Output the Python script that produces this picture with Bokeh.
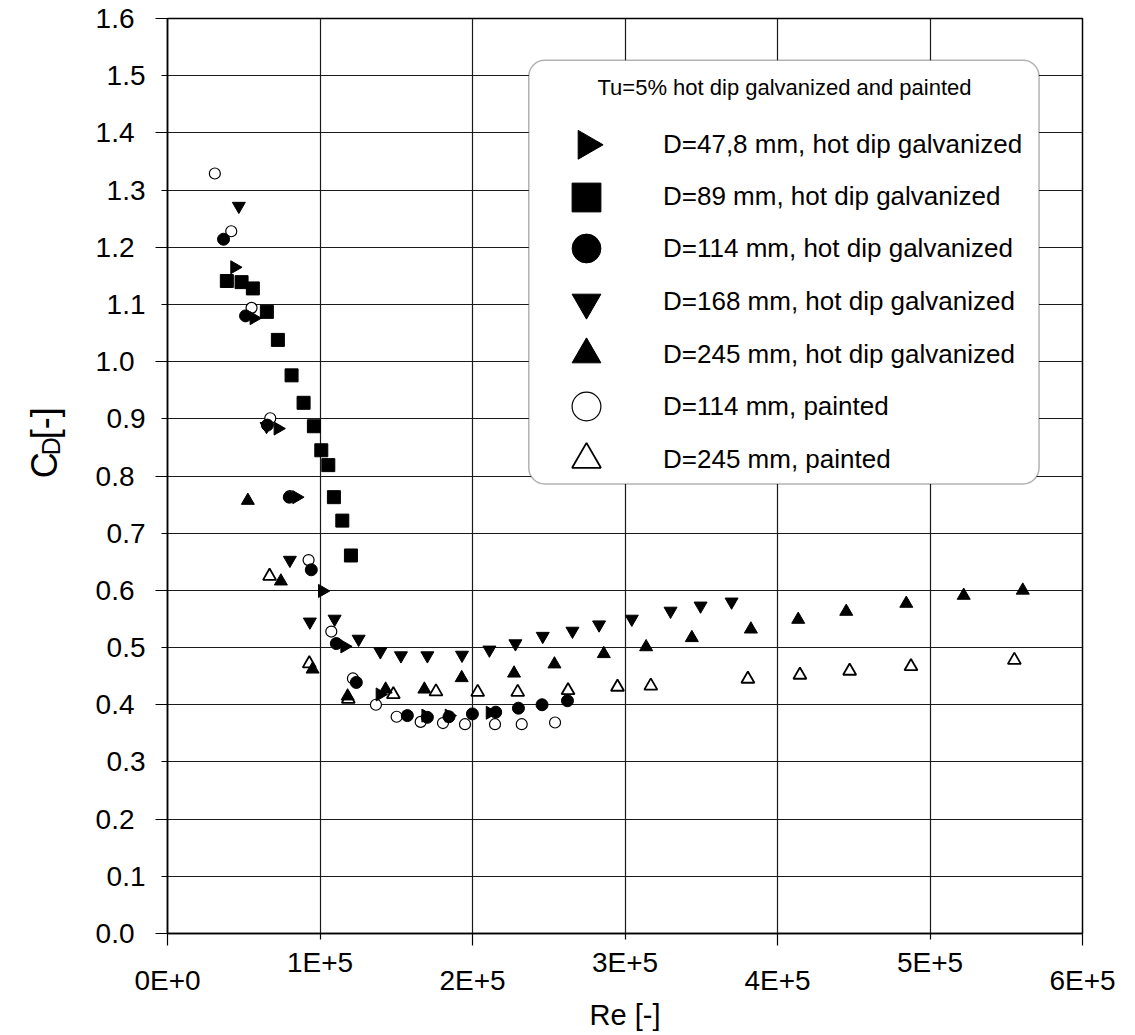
import numpy as np
from bokeh.plotting import figure
from bokeh.layouts import row
from bokeh.models import (Range1d, LinearAxis, FixedTicker, Legend, LegendItem,
                          Label, BoxAnnotation)
from bokeh.core.properties import value
from bokeh.embed import file_html
from bokeh.resources import INLINE

# ---------------- data ----------------
# D=47,8 mm, hot dip galvanized (right-pointing triangles)
re_478 = [43960, 56630, 72380, 84650, 101500, 116140, 139300, 169290, 184580, 211480]
cd_478 = [1.165, 1.076, 0.883, 0.763, 0.599, 0.502, 0.418, 0.381, 0.381, 0.386]

# D=89 mm, hot dip galvanized (squares)
re_89 = [38910, 48560, 55970, 65160, 72380, 81360, 89240, 96000, 100850, 105450,
         109120, 114630, 120280]
cd_89 = [1.141, 1.139, 1.128, 1.087, 1.038, 0.976, 0.928, 0.887, 0.845, 0.819,
         0.763, 0.722, 0.661]

# D=114 mm, hot dip galvanized (filled circles)
re_114g = [36750, 51180, 65500, 79860, 94290, 110700, 123820, 157280, 170400, 184580,
           199930, 215220, 230120, 245600, 262270]
cd_114g = [1.214, 1.080, 0.889, 0.763, 0.636, 0.507, 0.439, 0.381, 0.378, 0.379,
           0.384, 0.387, 0.394, 0.400, 0.407]

# D=168 mm, hot dip galvanized (inverted triangles)
re_168 = [46780, 64960, 80250, 93370, 109580, 125330, 139570, 153080, 170400, 193110,
          211090, 228150, 246060, 265550, 283010, 304460, 329860, 349540, 369880]
cd_168 = [1.272, 0.887, 0.653, 0.545, 0.550, 0.515, 0.493, 0.486, 0.486, 0.487,
          0.496, 0.507, 0.520, 0.529, 0.540, 0.550, 0.564, 0.573, 0.580]

# D=245 mm, hot dip galvanized (filled triangles)
re_245g = [52690, 74340, 95140, 118110, 143040, 168440, 192910, 227230, 253740, 286090,
           313850, 343830, 382550, 413580, 445080, 484450, 522110, 560830]
cd_245g = [0.757, 0.616, 0.462, 0.415, 0.427, 0.427, 0.447, 0.455, 0.471, 0.489,
           0.501, 0.517, 0.532, 0.549, 0.563, 0.577, 0.591, 0.600]

# D=114 mm, painted (open circles)
re_114p = [31040, 41800, 55120, 67390, 80250, 92520, 107410, 121590, 136680, 150260,
           166010, 180640, 195080, 214760, 232280, 254130]
cd_114p = [1.329, 1.228, 1.094, 0.901, 0.765, 0.653, 0.528, 0.446, 0.400, 0.379,
           0.370, 0.368, 0.366, 0.366, 0.366, 0.369]

# D=245 mm, painted (open triangles)
re_245p = [66930, 92980, 118570, 148100, 176050, 203410, 229660, 262660, 295080, 316930,
           380580, 414700, 447310, 487530, 555320]
cd_245p = [0.625, 0.472, 0.410, 0.418, 0.423, 0.422, 0.422, 0.425, 0.431, 0.433,
           0.445, 0.452, 0.459, 0.467, 0.478]

series_labels = [
    "D=47,8 mm, hot dip galvanized",
    "D=89 mm, hot dip galvanized",
    "D=114 mm, hot dip galvanized",
    "D=168 mm, hot dip galvanized",
    "D=245 mm, hot dip galvanized",
    "D=114 mm, painted",
    "D=245 mm, painted",
]
legend_title = "Tu=5% hot dip galvanized and painted"

x_ticks = [0, 100000, 200000, 300000, 400000, 500000, 600000]
x_tick_labels = ["0E+0", "1E+5", "2E+5", "3E+5", "4E+5", "5E+5", "6E+5"]
y_ticks = [0.0, 0.1, 0.2, 0.3, 0.4, 0.5, 0.6, 0.7, 0.8, 0.9, 1.0, 1.1, 1.2, 1.3,
           1.4, 1.5, 1.6]
y_tick_labels = ["0.0", "0.1", "0.2", "0.3", "0.4", "0.5", "0.6", "0.7", "0.8", "0.9",
                 "1.0", "1.1", "1.2", "1.3", "1.4", "1.5", "1.6"]

x_title = "Re [-]"
y_title_parts = ["C", "D", "[-]"]   # C with subscript D, then [-]

# ---------------- layout constants ----------------
FONT = "Liberation Sans"
TOTAL_H = 1035
YF_W = 90                 # strip holding the rotated y-axis title
FRAME_LEFT = 167          # page x of the plot frame
FRAME_W = 915
P_W = 1125 - YF_W
FRAME_TOP = 18
FRAME_H = 915
FRAME_BOTTOM = FRAME_TOP + FRAME_H                    # page y of frame bottom
FRAME_BOTTOM_BORDER = TOTAL_H - FRAME_BOTTOM

# ---------------- y-title strip ----------------
yfig = figure(width=YF_W, height=TOTAL_H, x_range=Range1d(0, YF_W), y_range=Range1d(0, TOTAL_H),
              output_backend="svg", toolbar_location=None, min_border=0,
              x_axis_location=None, y_axis_location=None)
yfig.outline_line_color = None
yfig.grid.visible = False
yfig.background_fill_color = "white"
yfig.border_fill_color = "white"
# (page-x of baseline, page-y where the text starts, font size)
for txt, bx, sy, fs in [(y_title_parts[0], 44, 520.0, "36px"),
                        (y_title_parts[1], 50, 494.0, "25px"),
                        (y_title_parts[2], 44, 476.0, "36px")]:
    yfig.text(x=[bx], y=[TOTAL_H - sy], text=[txt], angle=np.pi / 2,
              text_align="left", text_baseline="alphabetic",
              text_font=value(FONT), text_font_size=fs, text_color="black")

# ---------------- main figure ----------------
p = figure(width=P_W, height=TOTAL_H, x_range=Range1d(0, 600000), y_range=Range1d(0, 1.6),
           output_backend="svg", toolbar_location=None,
           min_border_left=FRAME_LEFT - YF_W, min_border_right=P_W - (FRAME_LEFT - YF_W) - FRAME_W,
           min_border_top=FRAME_TOP, min_border_bottom=FRAME_BOTTOM_BORDER)
p.background_fill_color = "white"
p.border_fill_color = "white"
p.outline_line_color = "black"
p.outline_line_width = 1.5

p.xgrid.ticker = FixedTicker(ticks=x_ticks)
p.ygrid.ticker = FixedTicker(ticks=y_ticks)
p.grid.grid_line_color = "#1a1a1a"
p.grid.grid_line_width = 1.2

x_over = {t: l for t, l in zip(x_ticks, x_tick_labels)}
y_over = {t: l for t, l in zip(y_ticks, y_tick_labels)}
odd_x, even_x = x_ticks[1::2], x_ticks[0::2]
odd_y, even_y = y_ticks[1::2], y_ticks[0::2]


def style_axis(a):
    a.major_label_text_font = FONT
    a.major_label_text_font_size = "28px"
    a.major_label_text_color = "black"
    a.axis_label_text_font = FONT
    a.axis_label_text_font_style = "normal"
    a.axis_label_text_color = "black"


def style_ticks(a):
    a.major_tick_out = 6
    a.major_tick_in = 0
    a.minor_tick_out = 12
    a.minor_tick_in = 0
    a.major_tick_line_color = "black"
    a.minor_tick_line_color = "black"
    a.major_tick_line_width = 1.2
    a.minor_tick_line_width = 1.2
    a.axis_line_color = "black"
    a.axis_line_width = 1.5


# x axis: odd labels close to the axis (short ticks), even labels one row lower (long ticks)
ax = p.xaxis[0]
ax.ticker = FixedTicker(ticks=odd_x, minor_ticks=even_x)
ax.major_label_overrides = x_over
style_ticks(ax)
ax.major_label_standoff = 1
style_axis(ax)

ax2 = LinearAxis(ticker=FixedTicker(ticks=even_x), major_label_overrides=x_over,
                 axis_line_color=None, major_tick_line_color=None, minor_tick_line_color=None,
                 major_tick_out=0, major_tick_in=0, minor_tick_out=0, minor_tick_in=0,
                 major_label_standoff=-16, axis_label=x_title, axis_label_standoff=0,
                 axis_label_text_font_size="29px")
style_axis(ax2)
p.add_layout(ax2, "below")

# y axis: odd labels close, even labels a little further left
ay = p.yaxis[0]
ay.ticker = FixedTicker(ticks=odd_y, minor_ticks=even_y)
ay.major_label_overrides = y_over
style_ticks(ay)
ay.major_label_standoff = 10
style_axis(ay)

ay2 = LinearAxis(ticker=FixedTicker(ticks=even_y), major_label_overrides=y_over,
                 axis_line_color=None, major_tick_line_color=None, minor_tick_line_color=None,
                 major_tick_out=0, major_tick_in=0, minor_tick_out=0, minor_tick_in=0,
                 major_label_standoff=-31)
style_axis(ay2)
p.add_layout(ay2, "left")

# ---------------- markers ----------------
r_114p = p.scatter(re_114p, cd_114p, marker="circle", size=11, fill_color="white",
                   line_color="black", line_width=1.2)
r_245p = p.scatter(re_245p, cd_245p, marker="triangle", size=13, fill_color="white",
                   line_color="black", line_width=1.8)
r_478 = p.scatter(re_478, cd_478, marker="triangle", angle=-np.pi / 2, size=13,
                  fill_color="black", line_color="black")
r_89 = p.scatter(re_89, cd_89, marker="square", size=13, fill_color="black", line_color="black")
r_114g = p.scatter(re_114g, cd_114g, marker="circle", size=12, fill_color="black",
                   line_color="black")
r_168 = p.scatter(re_168, cd_168, marker="inverted_triangle", size=13, fill_color="black",
                  line_color="black")
r_245g = p.scatter(re_245g, cd_245g, marker="triangle", size=13, fill_color="black",
                   line_color="black")

# ---------------- legend ----------------
box = BoxAnnotation(left=236900, right=571500, bottom=0.786, top=1.527,
                    fill_color="white", fill_alpha=1.0, line_color="black", line_width=1.5,
                    border_radius=16)
p.add_layout(box)

p.add_layout(Label(x=617, y=FRAME_BOTTOM - 87, x_units="screen", y_units="screen",
                   text=legend_title, text_align="center", text_baseline="middle",
                   text_font=FONT, text_font_size="22px", text_color="black"))

renderers = [r_478, r_89, r_114g, r_168, r_245g, r_114p, r_245p]
LEG_X = 383                      # frame-relative left of glyph box
GLYPH = 72                       # glyph box -> marker size 0.4*72 ~ 29 px
row_centers = [144.3, 196.7, 248.3, 301.7, 354.0, 406.0, 459.3]   # page y of rows
for i, (lab, r) in enumerate(zip(series_labels, renderers)):
    vy = FRAME_BOTTOM - row_centers[i] - GLYPH / 2
    common = dict(orientation="vertical", padding=0, margin=0, spacing=0,
                  label_text_font=FONT, label_text_font_size="26px",
                  label_text_color="black", background_fill_alpha=0, border_line_alpha=0)
    if i == 0:
        # legend swatch drawn separately (legend glyphs ignore marker angle)
        lg = Legend(items=[LegendItem(label=lab, renderers=[r])],
                    location=(LEG_X + GLYPH / 2, vy), glyph_width=1, glyph_height=GLYPH,
                    label_standoff=GLYPH + 41 - GLYPH // 2 - 1, **common)
    else:
        lg = Legend(items=[LegendItem(label=lab, renderers=[r])],
                    location=(LEG_X, vy), glyph_width=GLYPH, glyph_height=GLYPH,
                    label_standoff=41, **common)
    p.add_layout(lg)

sw_x = (LEG_X + GLYPH / 2) * 600000 / FRAME_W
sw_y = (FRAME_BOTTOM - row_centers[0]) * 1.6 / FRAME_H
sw = p.scatter([sw_x], [sw_y], marker="triangle", angle=-np.pi / 2, size=0.4 * GLYPH,
               fill_color="black", line_color="black")
sw.level = "overlay"

layout = row(yfig, p)
open("out.html", "w").write(file_html(layout, INLINE))
